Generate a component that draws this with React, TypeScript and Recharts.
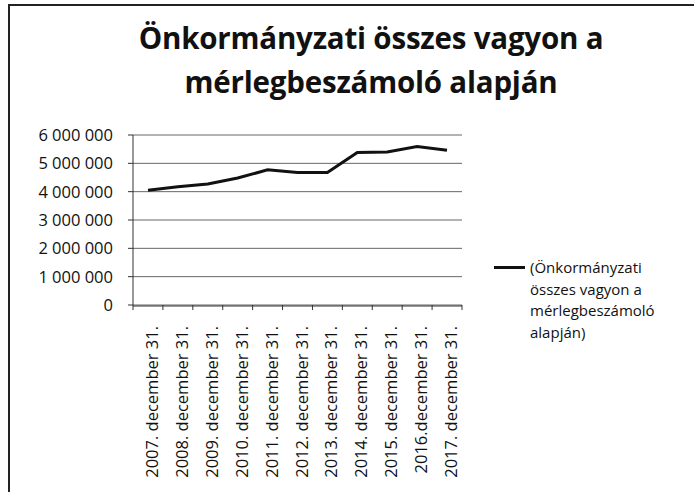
import React from 'react';
import { LineChart, Line, XAxis, YAxis, CartesianGrid } from 'recharts';

const years = [
  '2007. december 31.',
  '2008. december 31.',
  '2009. december 31.',
  '2010. december 31.',
  '2011. december 31.',
  '2012. december 31.',
  '2013. december 31.',
  '2014. december 31.',
  '2015. december 31.',
  '2016.december 31.',
  '2017. december 31.',
];

const vagyon = [
  4050000, 4170000, 4270000, 4480000, 4770000, 4680000, 4680000, 5380000, 5400000, 5590000,
  5460000,
];

const yTicks = [0, 1000000, 2000000, 3000000, 4000000, 5000000, 6000000];
const boundaryTicks = [0, 1, 2, 3, 4, 5, 6, 7, 8, 9, 10, 11];

const seriesName = '(Önkormányzati összes vagyon a mérlegbeszámoló alapján)';
const legendLines = ['(Önkormányzati', 'összes vagyon a', 'mérlegbeszámoló', 'alapján)'];

// pos = category slot (for the between-category tick marks axis)
const data = years.map((year, i) => ({ year, pos: i + 0.5, value: vagyon[i] }));

const font = '"Open Sans", sans-serif';

const fmt = (v: number) => v.toString().replace(/\B(?=(\d{3})+(?!\d))/g, ' ');

const YearTick = (props: any) => {
  const { x, y, payload } = props;
  return (
    <text
      x={0}
      y={0}
      transform={`translate(${x + 10},${y + 12}) rotate(-90)`}
      textAnchor="end"
      fontFamily={font}
      fontSize={16.5}
      fill="#111"
    >
      {payload.value}
    </text>
  );
};

const NoLabel = () => <g />;

export default function App() {
  return (
    <div style={{ position: 'absolute', left: 0, top: 0, width: 695, height: 492, background: '#fff' }}>
      <div style={{ position: 'absolute', left: 8, top: 4, width: 684, height: 488, borderTop: '2px solid #222', borderLeft: '2px solid #222' }} />
      <div
        style={{
          position: 'absolute',
          left: 71,
          top: 16,
          width: 600,
          textAlign: 'center',
          fontFamily: font,
          fontWeight: 700,
          fontSize: 29.5,
          lineHeight: '44px',
          color: '#111',
          letterSpacing: -0.2,
        }}
      >
        Önkormányzati összes vagyon a
        <br />
        mérlegbeszámoló alapján
      </div>
      <LineChart
        width={695}
        height={492}
        data={data}
        margin={{ top: 135, right: 233, bottom: 0, left: 0 }}
        style={{ position: 'absolute', left: 0, top: 0 }}
      >
        <CartesianGrid xAxisId="a" horizontal vertical={false} stroke="#666" />
        <XAxis
          xAxisId="a"
          dataKey="pos"
          type="number"
          domain={[0, 11]}
          ticks={boundaryTicks}
          tick={<NoLabel />}
          tickSize={5}
          axisLine={false}
          tickLine={{ stroke: '#333' }}
          height={1}
        />
        <XAxis
          xAxisId="z"
          dataKey="year"
          interval={0}
          padding={{ left: 15, right: 15 }}
          tick={<YearTick />}
          tickLine={false}
          axisLine={{ stroke: '#333' }}
          height={186}
        />
        <YAxis
          domain={[0, 6000000]}
          ticks={yTicks}
          tickFormatter={fmt}
          width={133}
          tickSize={5}
          tickMargin={15}
          axisLine={{ stroke: '#333' }}
          tickLine={{ stroke: '#333' }}
          tick={{ fontFamily: font, fontSize: 16.5, fill: '#111' }}
        />
        <Line
          xAxisId="z"
          name={seriesName}
          dataKey="value"
          stroke="#111"
          strokeWidth={3}
          dot={false}
          isAnimationActive={false}
        />
      </LineChart>
      <div
        style={{
          position: 'absolute',
          left: 494,
          top: 257,
          width: 190,
          fontFamily: font,
          fontSize: 15,
          color: '#111',
          lineHeight: '21.5px',
        }}
      >
        <div style={{ position: 'absolute', left: 0, top: 9, width: 31, height: 3, background: '#111' }} />
        <div style={{ marginLeft: 36 }}>
          {legendLines.map((l) => (
            <div key={l}>{l}</div>
          ))}
        </div>
      </div>
    </div>
  );
}
